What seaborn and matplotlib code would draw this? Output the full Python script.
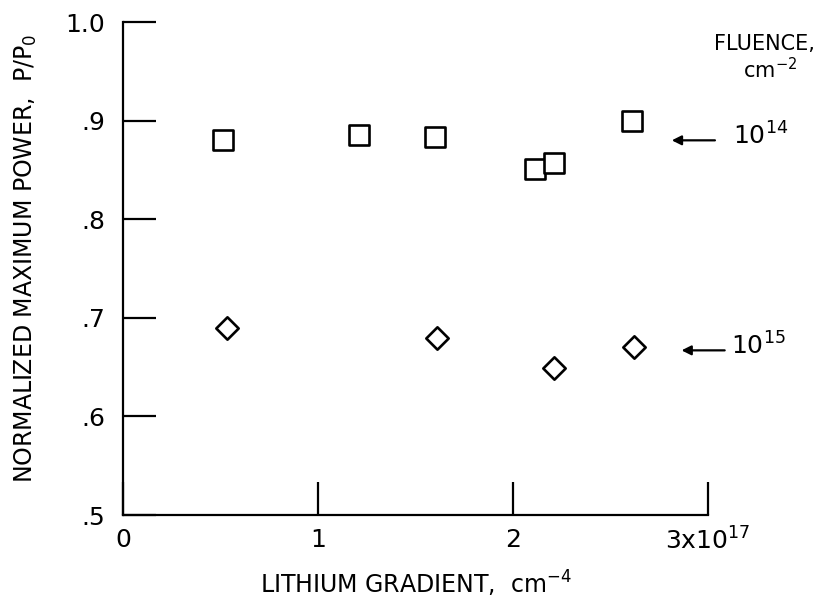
# =========================
# NORMALIZED MAXIMUM POWER vs LITHIUM GRADIENT
# =========================

import pandas as pd
import matplotlib
matplotlib.use("Agg")
import matplotlib.pyplot as plt
import seaborn as sns

# =========================
# DATA
# =========================

# fluence 10^14 cm^-2 (squares)
grad_14 = [0.51, 1.21, 1.60, 2.11, 2.21, 2.61]
power_14 = [0.880, 0.885, 0.883, 0.851, 0.857, 0.900]

# fluence 10^15 cm^-2 (diamonds)
grad_15 = [0.53, 1.61, 2.21, 2.62]
power_15 = [0.690, 0.680, 0.649, 0.670]

x_ticks = [0, 1, 2, 3]
x_tick_labels = ["0", "1", "2", "3x10$^{17}$"]
y_ticks = [0.5, 0.6, 0.7, 0.8, 0.9, 1.0]
y_tick_labels = [".5", ".6", ".7", ".8", ".9", "1.0"]

df14 = pd.DataFrame({"grad": grad_14, "power": power_14})
df15 = pd.DataFrame({"grad": grad_15, "power": power_15})

# =========================
# STYLE
# =========================

sns.set_style("white")
plt.rcParams["font.family"] = ["DejaVu Sans"]
plt.rcParams["mathtext.fontset"] = "custom"
plt.rcParams["mathtext.rm"] = "DejaVu Sans"
plt.rcParams["text.color"] = "black"
plt.rcParams["axes.labelcolor"] = "black"
plt.rcParams["xtick.color"] = "black"
plt.rcParams["ytick.color"] = "black"

fig = plt.figure(figsize=(8.24, 6.03), dpi=100)
ax = fig.add_axes([0.1497, 0.1459, 0.7095, 0.8176])

# =========================
# PLOT POINTS
# =========================

sns.scatterplot(data=df14, x="grad", y="power", marker="s", s=190,
                facecolor="white", edgecolor="black", linewidth=1.9, ax=ax)
sns.scatterplot(data=df15, x="grad", y="power", marker="D", s=130,
                facecolor="white", edgecolor="black", linewidth=1.9, ax=ax)

# =========================
# AXES
# =========================

ax.set_xlim(0, 3)
ax.set_ylim(0.5, 1.0)
ax.set_xticks(x_ticks)
ax.set_xticklabels(x_tick_labels, fontsize=18)
ax.set_yticks(y_ticks)
ax.set_yticklabels(y_tick_labels, fontsize=18)

for side in ["top", "right"]:
    ax.spines[side].set_visible(False)
for side in ["left", "bottom"]:
    ax.spines[side].set_linewidth(1.6)
    ax.spines[side].set_color("black")

ax.tick_params(axis="both", bottom=True, left=True, direction="in",
               length=24, width=1.6, color="black", labelcolor="black")
ax.tick_params(axis="x", pad=9)
ax.tick_params(axis="y", pad=13)

ax.set_xlabel("LITHIUM GRADIENT,  cm$^{-4}$", fontsize=17)
ax.set_ylabel("NORMALIZED MAXIMUM POWER,  P/P$_0$", fontsize=17)
ax.xaxis.set_label_coords(0.5, -0.11)
ax.yaxis.set_label_coords(-0.145, 0.52)

# =========================
# ANNOTATIONS
# =========================

ax.text(3.29, 0.978, "FLUENCE,", fontsize=15, ha="center", va="center")
ax.text(3.32, 0.952, "cm$^{-2}$", fontsize=15, ha="center", va="center")

ax.annotate("", xy=(2.80, 0.880), xytext=(3.05, 0.880),
            arrowprops=dict(arrowstyle="-|>", color="black", lw=1.6,
                            mutation_scale=14),
            annotation_clip=False)
ax.text(3.13, 0.884, "10$^{14}$", fontsize=18, ha="left", va="center")

ax.annotate("", xy=(2.85, 0.667), xytext=(3.10, 0.667),
            arrowprops=dict(arrowstyle="-|>", color="black", lw=1.6,
                            mutation_scale=14),
            annotation_clip=False)
ax.text(3.12, 0.671, "10$^{15}$", fontsize=18, ha="left", va="center")

fig.savefig("out.png", dpi=100)
